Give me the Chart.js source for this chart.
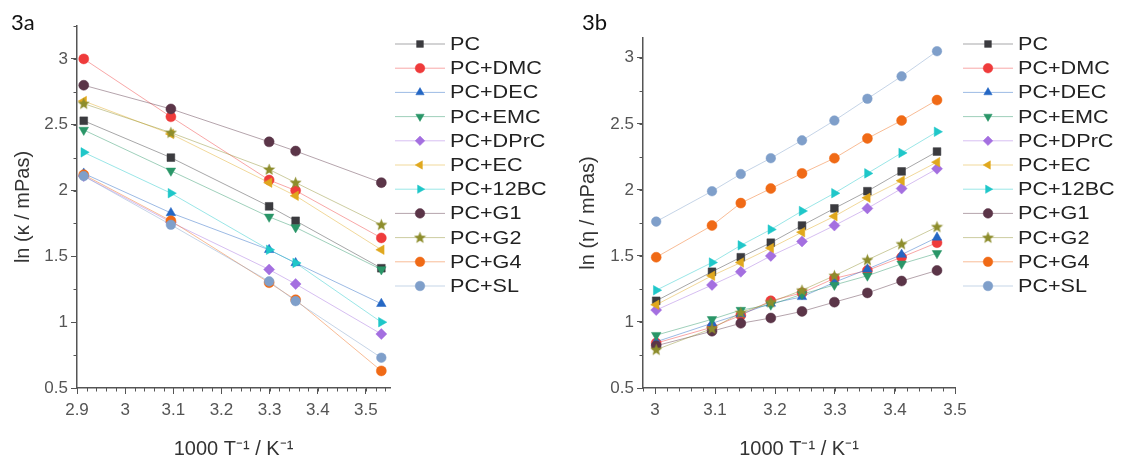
<!DOCTYPE html>
<html>
<head>
<meta charset="utf-8">
<script src="https://cdn.jsdelivr.net/npm/chart.js@4.4.1/dist/chart.umd.min.js"></script>
<style>
  html, body { margin: 0; padding: 0; background: #fff; }
  #wrap { position: relative; width: 1123px; height: 459px; overflow: hidden; }
  .panel { position: absolute; top: 0; height: 459px; }
  #panelA { left: 0; width: 560px; }
  #panelB { left: 560px; width: 563px; }
  .tag { position: absolute; top: 9px; font: 22px Lato, sans-serif; line-height: 1.2; color: #111; }
</style>
</head>
<body>
<div id="wrap">
  <div class="panel" id="panelA"><canvas id="chartA" width="560" height="459"></canvas></div>
  <div class="panel" id="panelB"><canvas id="chartB" width="563" height="459"></canvas></div>
  <div class="tag" style="left:11px">3a</div>
  <div class="tag" style="left:582px">3b</div>
</div>
<script>
// DATA
const seriesNames = ["PC", "PC+DMC", "PC+DEC", "PC+EMC", "PC+DPrC", "PC+EC", "PC+12BC", "PC+G1", "PC+G2", "PC+G4", "PC+SL"];

// 3a: ln(kappa) vs 1000/T
const invTempA = [2.914, 3.095, 3.299, 3.354, 3.532];
const kappaPC = [2.53, 2.25, 1.88, 1.77, 1.41];
const kappaDMC = [3.0, 2.56, 2.08, 2.0, 1.64];
const kappaDEC = [2.13, 1.83, 1.55, 1.45, 1.14];
const kappaEMC = [2.46, 2.15, 1.8, 1.72, 1.4];
const kappaDPrC = [2.11, 1.76, 1.4, 1.29, 0.91];
const kappaEC = [2.68, 2.43, 2.06, 1.96, 1.55];
const kappa12BC = [2.29, 1.98, 1.55, 1.45, 1.0];
const kappaG1 = [2.8, 2.62, 2.37, 2.3, 2.06];
const kappaG2 = [2.66, 2.44, 2.16, 2.06, 1.74];
const kappaG4 = [2.12, 1.77, 1.3, 1.17, 0.63];
const kappaSL = [2.11, 1.74, 1.31, 1.16, 0.73];

// 3b: ln(eta) vs 1000/T
const invTempB = [3.002, 3.095, 3.143, 3.193, 3.245, 3.299, 3.354, 3.411, 3.47];
const etaPC = [1.16, 1.38, 1.49, 1.6, 1.73, 1.86, 1.99, 2.14, 2.29];
const etaDMC = [0.84, 0.96, 1.05, 1.16, 1.22, 1.33, 1.39, 1.49, 1.6];
const etaDEC = [0.85, 0.99, 1.06, 1.14, 1.19, 1.3, 1.4, 1.51, 1.64];
const etaEMC = [0.9, 1.02, 1.09, 1.13, 1.21, 1.28, 1.35, 1.44, 1.52];
const etaDPrC = [1.09, 1.28, 1.38, 1.5, 1.61, 1.73, 1.86, 2.01, 2.16];
const etaEC = [1.13, 1.35, 1.45, 1.56, 1.68, 1.8, 1.94, 2.07, 2.21];
const eta12BC = [1.24, 1.45, 1.58, 1.7, 1.84, 1.975, 2.125, 2.28, 2.44];
const etaG1 = [0.82, 0.93, 0.99, 1.03, 1.08, 1.15, 1.22, 1.31, 1.39];
const etaG2 = [0.79, 0.95, 1.07, 1.15, 1.24, 1.35, 1.47, 1.59, 1.72];
const etaG4 = [1.49, 1.73, 1.9, 2.01, 2.125, 2.24, 2.39, 2.525, 2.68];
const etaSL = [1.76, 1.99, 2.12, 2.24, 2.375, 2.525, 2.69, 2.86, 3.05];

const xTicksA = [2.9, 3.0, 3.1, 3.2, 3.3, 3.4, 3.5];
const xTicksB = [3.0, 3.1, 3.2, 3.3, 3.4, 3.5];
const yTicks = [0.5, 1, 1.5, 2, 2.5, 3];

// STYLE
const colors = ["#3b3b3f", "#ef3b3b", "#2467c4", "#2a9668", "#a46fe0", "#e0a81e", "#1fc7c9", "#5b3548", "#8d8d2c", "#f06a16", "#7f9fca"];

function starImage(color) {
  const c = document.createElement("canvas");
  c.width = 13; c.height = 13;
  const g = c.getContext("2d");
  g.fillStyle = color;
  g.beginPath();
  for (let i = 0; i < 10; i++) {
    const r = i % 2 === 0 ? 6.3 : 2.7;
    const a = -Math.PI / 2 + i * Math.PI / 5;
    g.lineTo(6.5 + r * Math.cos(a), 6.8 + r * Math.sin(a));
  }
  g.closePath();
  g.fill();
  return c;
}

const markers = [
  { style: "rect", rot: 0, r: 5.5 },
  { style: "circle", rot: 0, r: 5 },
  { style: "triangle", rot: 0, r: 5.5 },
  { style: "triangle", rot: 180, r: 5.5 },
  { style: "rectRot", rot: 0, r: 5.5 },
  { style: "triangle", rot: 270, r: 5.5 },
  { style: "triangle", rot: 90, r: 5.5 },
  { style: "circle", rot: 0, r: 5 },
  { style: starImage(colors[8]), rot: 0, r: 6 },
  { style: "circle", rot: 0, r: 5 },
  { style: "circle", rot: 0, r: 4.8 },
];

function fade(hex, a) {
  const n = parseInt(hex.slice(1), 16);
  return `rgba(${(n >> 16) & 255}, ${(n >> 8) & 255}, ${n & 255}, ${a})`;
}

function makeDatasets(xs, seriesValues) {
  return seriesValues.map((vals, i) => ({
    label: seriesNames[i],
    data: vals.map((v, j) => ({ x: xs[j], y: v })),
    order: -i, // later series on top, like the original plot
    borderColor: fade(colors[i], 0.45),
    borderWidth: 1,
    pointStyle: markers[i].style,
    pointRotation: markers[i].rot,
    pointRadius: markers[i].r,
    pointBackgroundColor: colors[i],
    pointBorderColor: colors[i],
    pointBorderWidth: 0.5,
    clip: false,
    tension: 0,
  }));
}

// legend at the right: line - marker - line, then label
const sideLegend = {
  id: "sideLegend",
  afterDraw(chart, args, opts) {
    const ctx = chart.ctx;
    chart.data.datasets.forEach((ds, i) => {
      const y = opts.top + i * opts.gap;
      ctx.save();
      ctx.strokeStyle = ds.borderColor;
      ctx.lineWidth = 1;
      ctx.beginPath();
      ctx.moveTo(opts.x, y);
      ctx.lineTo(opts.x + 50, y);
      ctx.stroke();
      ctx.fillStyle = ds.pointBackgroundColor;
      ctx.strokeStyle = ds.pointBorderColor;
      ctx.lineWidth = 0.5;
      Chart.helpers.drawPoint(ctx, {
        pointStyle: ds.pointStyle,
        rotation: ds.pointRotation,
        radius: Math.min(ds.pointRadius, 4.8),
        borderWidth: 0.5,
      }, opts.x + 25, y);
      ctx.translate(opts.x + 55, y + 1);
      ctx.scale(1.2, 1);
      ctx.fillStyle = "#222";
      ctx.font = '18px "Liberation Sans", Arial, sans-serif';
      ctx.textBaseline = "middle";
      ctx.fillText(ds.label, 0, 0);
      ctx.restore();
    });
  },
};

// small ticks between the labelled ones
const minorTicks = {
  id: "minorTicks",
  afterDraw(chart, args, opts) {
    const { ctx } = chart;
    const x = chart.scales.x, y = chart.scales.y;
    ctx.save();
    ctx.strokeStyle = "#555";
    ctx.lineWidth = 1;
    ctx.beginPath();
    for (let k = Math.ceil(x.min / opts.xStep - 1e-6); k * opts.xStep <= x.max + 1e-9; k++) {
      const px = Math.round(x.getPixelForValue(k * opts.xStep)) + 0.5;
      ctx.moveTo(px, y.bottom);
      ctx.lineTo(px, y.bottom + 3.5);
    }
    for (let k = Math.ceil(y.min / opts.yStep - 1e-6); k * opts.yStep <= y.max + 1e-9; k++) {
      const py = Math.round(y.getPixelForValue(k * opts.yStep)) + 0.5;
      ctx.moveTo(x.left, py);
      ctx.lineTo(x.left - 3.5, py);
    }
    ctx.stroke();
    ctx.restore();
  },
};

function makePanel(canvasId, xs, seriesValues, cfg) {
  const tickFont = { family: '"Liberation Sans", Arial, sans-serif', size: 17 };
  const titleFont = { family: '"Liberation Sans", Arial, sans-serif', size: 20 };
  return new Chart(document.getElementById(canvasId), {
    type: "line",
    data: { datasets: makeDatasets(xs, seriesValues) },
    options: {
      responsive: false,
      animation: false,
      layout: { padding: { top: cfg.top, right: cfg.right, left: 0, bottom: 0 } },
      plugins: {
        legend: { display: false },
        tooltip: { enabled: false },
        sideLegend: { x: cfg.legendX, top: 44, gap: 24.2 },
        minorTicks: { xStep: 0.02, yStep: 0.25 },
      },
      scales: {
        x: {
          type: "linear",
          min: cfg.xMin,
          max: cfg.xMax,
          afterFit: (s) => { s.height = 71; },
          afterBuildTicks: (s) => { s.ticks = cfg.xTicks.map((v) => ({ value: v })); },
          ticks: { font: tickFont, color: "#555", padding: 6, maxRotation: 0, callback: (v) => String(+v.toFixed(1)) },
          grid: { drawOnChartArea: false, drawTicks: true, tickLength: 6, tickColor: "#555" },
          border: { display: true, color: "#555", width: 1.5 },
          title: { display: true, text: "1000 T⁻¹ / K⁻¹", font: { ...titleFont, lineHeight: 1 }, color: "#333", padding: { top: 0, bottom: 0 } },
        },
        y: {
          type: "linear",
          min: 0.5,
          max: cfg.yMax,
          afterFit: (s) => { s.width = cfg.left; },
          afterBuildTicks: (s) => { s.ticks = yTicks.map((v) => ({ value: v })); },
          ticks: { font: tickFont, color: "#555", padding: 3, callback: (v) => String(v) },
          grid: { drawOnChartArea: false, drawTicks: true, tickLength: 6, tickColor: "#555" },
          border: { display: true, color: "#555", width: 1.5 },
          title: { display: true, text: cfg.yTitle, font: titleFont, color: "#333", padding: { top: cfg.yTitlePad, bottom: 0 } },
        },
      },
    },
    plugins: [sideLegend, minorTicks],
  });
}

const chartA = makePanel("chartA", invTempA,
  [kappaPC, kappaDMC, kappaDEC, kappaEMC, kappaDPrC, kappaEC, kappa12BC, kappaG1, kappaG2, kappaG4, kappaSL],
  { top: 26, right: 170, left: 77, xMin: 2.9, xMax: 3.55, yMax: 3.25, xTicks: xTicksA,
    yTitle: "ln (κ / mPas)", yTitlePad: 11, legendX: 395 });

const chartB = makePanel("chartB", invTempB,
  [etaPC, etaDMC, etaDEC, etaEMC, etaDPrC, etaEC, eta12BC, etaG1, etaG2, etaG4, etaSL],
  { top: 38, right: 168, left: 83, xMin: 2.98, xMax: 3.5, yMax: 3.15, xTicks: xTicksB,
    yTitle: "ln (η / mPas)", yTitlePad: 16, legendX: 403 });
</script>
</body>
</html>
